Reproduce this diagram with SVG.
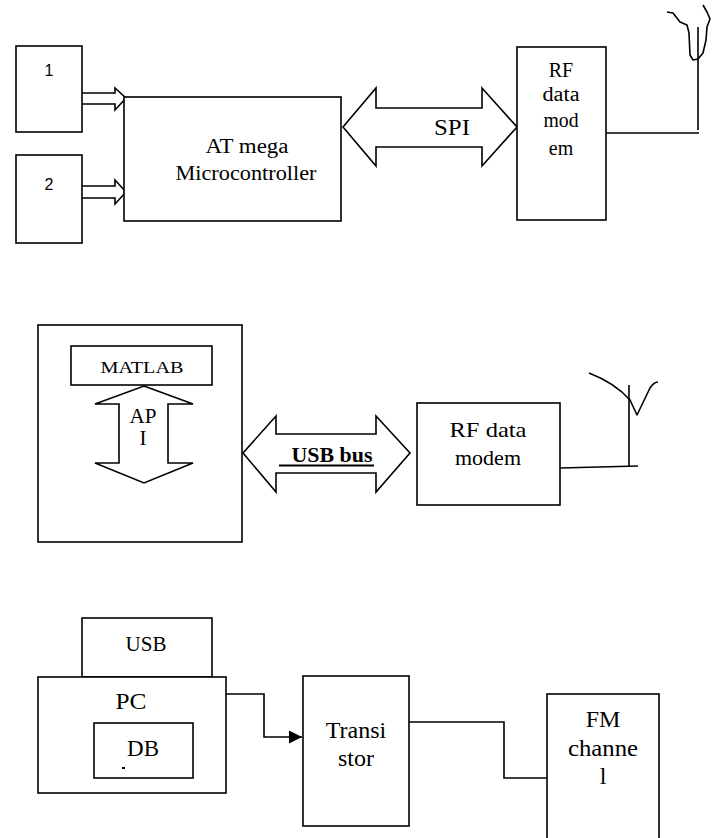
<svg xmlns="http://www.w3.org/2000/svg" width="716" height="838" viewBox="0 0 716 838">
<style>
.box{fill:#fff;stroke:#000;stroke-width:1.6}
.ln{fill:none;stroke:#000;stroke-width:1.6}
.ba{fill:#fff;stroke:#000;stroke-width:1.6;stroke-linejoin:miter}
.t{font-family:"Liberation Serif","Times New Roman",serif;fill:#000;text-anchor:middle}
.s{font-family:"Liberation Sans",Arial,sans-serif;fill:#000;text-anchor:middle}
</style>
<defs>
<marker id="ah" viewBox="0 0 10 10" refX="10" refY="5" markerWidth="14" markerHeight="13" markerUnits="userSpaceOnUse" orient="auto">
<path d="M0,0 L10,5 L0,10 Z" fill="#000"/>
</marker>
</defs>
<rect width="716" height="838" fill="#fff"/>

<g id="pc1">
<rect class="box" x="38" y="325" width="204" height="217"/>
</g>

<g id="connectors">
<path class="ba" d="M82,93 H115 V88 L126,98 L115,110 V104 H82"/>
<path class="ba" d="M82,186 H115 V180 L126,192 L115,204 V198 H82"/>
<polygon class="ba" points="343,127 376,88 376,108 482,108 482,88 517,127 482,166 482,147 376,147 376,166"/>
<text class="t" x="452" y="135" font-size="23" textLength="36" lengthAdjust="spacingAndGlyphs">SPI</text>
<path class="ln" d="M606,133 H699"/>
<polygon class="ba" points="144,386 193,404 168,404 168,463 193,463 144,483 95,463 119,463 119,404 95,404"/>
<polygon class="ba" points="243,453 276,416 276,434 376,434 376,416 410,453 376,492 376,473 276,473 276,492"/>
<text class="t" x="332" y="462" font-size="21" font-weight="bold" textLength="81" lengthAdjust="spacingAndGlyphs">USB bus</text>
<line x1="279" y1="465.5" x2="374" y2="465.5" stroke="#000" stroke-width="2.2"/>
<path class="ln" d="M560,468 L638,466"/>
<path class="ln" d="M226,694 H264 V737 H302" marker-end="url(#ah)"/>
<path class="ln" d="M403,722 H504 V778 H547"/>
</g>

<g id="in1">
<rect class="box" x="16" y="46" width="66" height="86"/>
<text class="s" x="49" y="76" font-size="16">1</text>
</g>
<g id="in2">
<rect class="box" x="16" y="155" width="66" height="88"/>
<text class="s" x="49" y="190" font-size="16">2</text>
</g>
<g id="atmega">
<rect class="box" x="124" y="97" width="217" height="124"/>
<text class="t" x="247" y="153" font-size="20" textLength="83" lengthAdjust="spacingAndGlyphs">AT mega</text>
<text class="t" x="246" y="180" font-size="20" textLength="141" lengthAdjust="spacingAndGlyphs">Microcontroller</text>
</g>
<g id="rf1">
<rect class="box" x="517" y="47" width="89" height="173"/>
<text class="t" x="561" y="77" font-size="20">RF</text>
<text class="t" x="561" y="101" font-size="20" textLength="37" lengthAdjust="spacingAndGlyphs">data</text>
<text class="t" x="561" y="127" font-size="20" textLength="35" lengthAdjust="spacingAndGlyphs">mod</text>
<text class="t" x="561" y="155" font-size="20">em</text>
</g>
<g id="antenna1">
<path class="ln" d="M698,27 V130"/>
<path class="ln" stroke-linejoin="round" d="M667,12 L673,13 L680,22 L687,25 L689,33 L690,55 L693,60 L698,59 L703,53 L706,40 L707,27 L710,19 L707,12 L703,5"/>
</g>

<g id="matlab">
<rect class="box" x="71" y="346" width="141" height="39"/>
<text class="t" x="142" y="373" font-size="16" textLength="83" lengthAdjust="spacingAndGlyphs">MATLAB</text>
</g>
<g id="api">
<text class="t" x="143" y="423" font-size="21" textLength="27" lengthAdjust="spacingAndGlyphs">AP</text>
<text class="t" x="143" y="445" font-size="21">I</text>
</g>
<g id="rf2">
<rect class="box" x="417" y="403" width="143" height="102"/>
<text class="t" x="488" y="437" font-size="22" textLength="77" lengthAdjust="spacingAndGlyphs">RF data</text>
<text class="t" x="488" y="465" font-size="22">modem</text>
</g>
<g id="antenna2">
<path class="ln" d="M629,385 V467"/>
<path class="ln" stroke-linejoin="round" d="M589,373 Q615,383 630,400 L637,415 L650,388 Q654,382 658,382"/>
</g>

<g id="usb">
<rect class="box" x="82" y="618" width="130" height="59"/>
<text class="t" x="146" y="651" font-size="21">USB</text>
</g>
<g id="pc">
<rect class="box" x="38" y="677" width="188" height="116"/>
<text class="t" x="131" y="709" font-size="23" textLength="31" lengthAdjust="spacingAndGlyphs">PC</text>
</g>
<g id="db">
<rect class="box" x="94" y="723" width="99" height="55"/>
<text class="t" x="143" y="756" font-size="23">DB</text>
<rect x="122" y="767" width="3" height="2" fill="#000"/>
</g>
<g id="transistor">
<rect class="box" x="303" y="676" width="106" height="150"/>
<text class="t" x="356" y="738" font-size="24">Transi</text>
<text class="t" x="356" y="766" font-size="24">stor</text>
</g>
<g id="fm">
<rect class="box" x="547" y="694" width="112" height="150"/>
<text class="t" x="603" y="727" font-size="24">FM</text>
<text class="t" x="603" y="756" font-size="24" textLength="70" lengthAdjust="spacingAndGlyphs">channe</text>
<text class="t" x="603" y="784" font-size="24">l</text>
</g>
</svg>
